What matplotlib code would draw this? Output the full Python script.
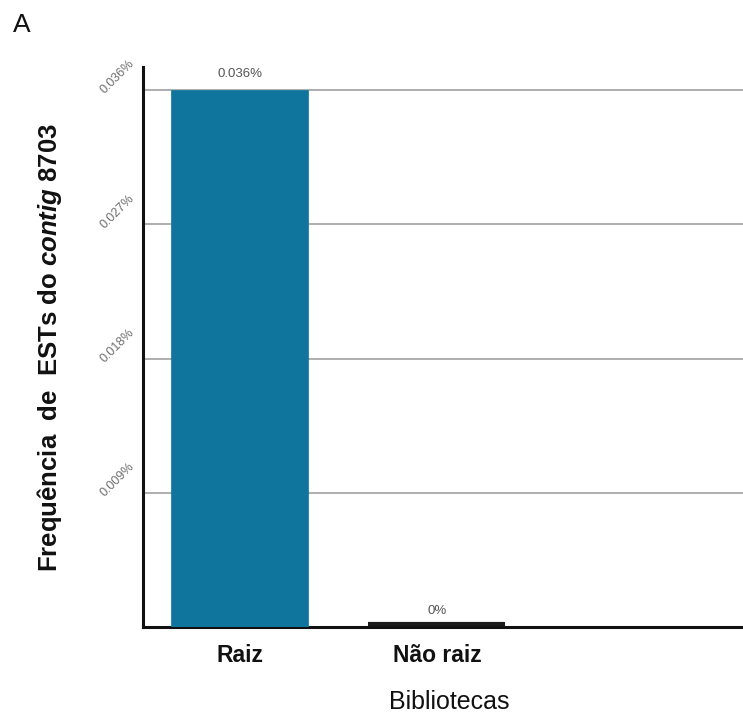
import matplotlib
matplotlib.use("Agg")
import matplotlib.pyplot as plt
from matplotlib.transforms import ScaledTranslation, blended_transform_factory

plt.rcParams['font.family'] = ['Liberation Sans', 'DejaVu Sans']
plt.rcParams['mathtext.fontset'] = 'custom'
plt.rcParams['mathtext.bfit'] = 'Liberation Sans:italic:bold'
plt.rcParams['mathtext.it'] = 'Liberation Sans:italic'
plt.rcParams['mathtext.rm'] = 'Liberation Sans'
plt.rcParams['mathtext.bf'] = 'Liberation Sans:bold'

categories = ["Raiz", "Não raiz"]
values = [0.036, 0.0]
value_labels = ["0.036%", "0%"]
yticks = [0.009, 0.018, 0.027, 0.036]
ytick_labels = ["0.009%", "0.018%", "0.027%", "0.036%"]

fig = plt.figure(figsize=(7.43, 7.16), dpi=100)
ax = fig.add_axes([0.1925, 0.1243, 0.8075, 0.782])

x = list(range(len(categories)))
bars = ax.bar(x, values, width=0.694, color="#0f759d", edgecolor="#0f759d",
              linewidth=0.5, zorder=3)
# zero-height bar drawn as a dark line at its own extent
for b, v in zip(bars, values):
    if v == 0:
        ax.plot([b.get_x(), b.get_x() + b.get_width()], [v, v], color='#1a1a1a',
                linewidth=3, solid_capstyle='butt', zorder=4,
                transform=ax.transData + ScaledTranslation(0, 3/100, fig.dpi_scale_trans),
                clip_on=False)
for xi, v, lab in zip(x, values, value_labels):
    ax.text(xi, v, lab, ha='center', va='bottom', fontsize=9.5, color='#555555',
            transform=ax.transData + ScaledTranslation(0, 10/100, fig.dpi_scale_trans))

ax.set_xlim(-0.489, 2.55)
ax.set_ylim(0, 0.03755)
ax.set_yticks(yticks)
ax.set_yticklabels([])
ytrans = blended_transform_factory(ax.transAxes, ax.transData) + \
    ScaledTranslation(0, 13/100, fig.dpi_scale_trans)
for yv, lab in zip(yticks, ytick_labels):
    ax.text(-0.0433, yv, lab, rotation=45, ha='center', va='center', fontsize=9,
            color='#6e6e6e', transform=ytrans, clip_on=False)

ax.yaxis.grid(True, color='#a8a8a8', linewidth=1.3, zorder=0)
ax.set_axisbelow(True)
ax.tick_params(axis='y', length=0)
ax.tick_params(axis='x', length=0, pad=12)
ax.set_xticks(x)
ax.set_xticklabels(categories, fontsize=16.5, fontweight='bold', color='#111111')

for s in ['top', 'right']:
    ax.spines[s].set_visible(False)
for s in ['left', 'bottom']:
    ax.spines[s].set_linewidth(2.2)
    ax.spines[s].set_color('#111111')

ax.set_ylabel(r"Frequência  de  ESTs do $\mathbfit{contig}$ 8703", fontsize=18.5,
              fontweight='bold', color='#111111')
ax.yaxis.set_label_coords(-0.132, 0.5)
ax.set_xlabel("Bibliotecas", fontsize=18, color='#111111')
ax.xaxis.set_label_coords(0.51, -0.112)

fig.text(0.0175, 0.965, "A", fontsize=19, ha='left', va='center', color='#111111')

fig.savefig("out.png", dpi=100)
